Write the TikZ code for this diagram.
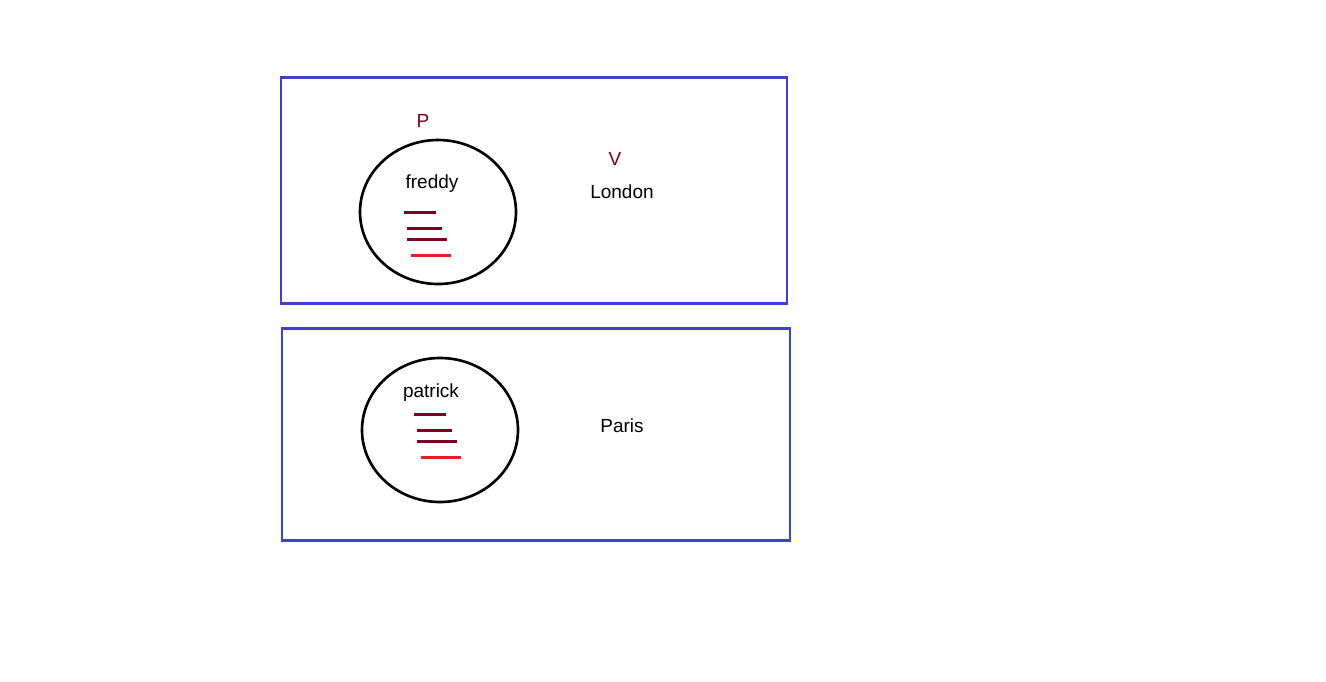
\documentclass[tikz,border=0pt]{standalone}
\usepackage{fontspec}
\setmainfont{Liberation Sans}
\definecolor{framecol}{HTML}{4040D0}
\definecolor{strokecol}{HTML}{800020}
\definecolor{lastcol}{HTML}{ED1C24}
\begin{document}
\begin{tikzpicture}[x=0.01cm, y=-0.01cm, every node/.style={font=\fontsize{5.4}{6.5}\selectfont, inner sep=0pt},
    frame/.style={draw=framecol, line width=0.85pt},
    blob/.style={draw, line width=0.75pt},
    mark line/.style={strokecol, line width=0.85pt}]
    \useasboundingbox (0,0) rectangle (1326,681);
    % the two places
    \draw[frame] (281,77) rectangle (787,303);
    \draw[frame] (282,328) rectangle (790,540);
    \draw[blob] (438,212) ellipse [x radius=78, y radius=72];
    \draw[blob] (440,430) ellipse [x radius=78, y radius=72];
    % strokes inside each circle
    \foreach \dx/\dy in {0/0, 10/202} {
        \draw[mark line] (404+\dx,212+\dy) -- (436+\dx,212+\dy);
        \draw[mark line] (407+\dx,228+\dy) -- (442+\dx,228+\dy);
        \draw[mark line] (407+\dx,239+\dy) -- (447+\dx,239+\dy);
        \draw[mark line, lastcol] (411+\dx,255+\dy) -- (451+\dx,255+\dy);
    }
    \node[text=strokecol] (p-label) at (423,121) {P};
    \node[text=strokecol] (v-label) at (615,159) {V};
    \node (freddy) at (432,184) {freddy};
    \node (london) at (622,192) {London};
    \node (patrick) at (431,393) {patrick};
    \node (paris) at (622,426) {Paris};
\end{tikzpicture}
\end{document}
